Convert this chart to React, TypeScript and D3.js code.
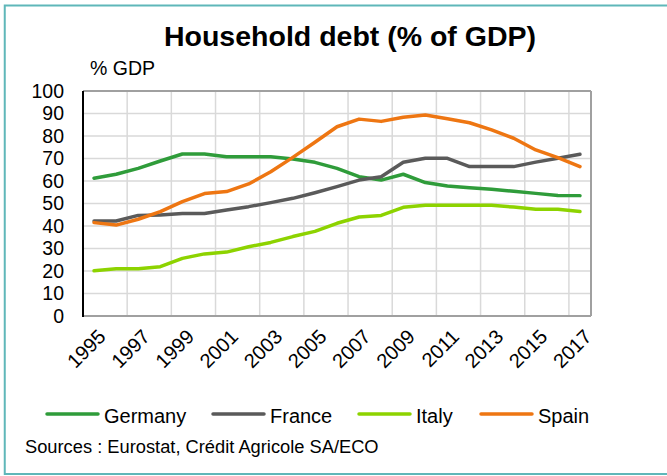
import React from "react";
import * as d3 from "d3";

const years = d3.range(1995, 2018).map(String);
const germany = [61.2, 63, 65.6, 68.9, 72, 72, 70.8, 70.8, 70.8, 69.8, 68.3, 65.6, 61.9, 60.4, 63, 59.3, 57.8, 57, 56.3, 55.4, 54.5, 53.6, 53.5];
const france = [42.2, 42.2, 44.7, 44.9, 45.6, 45.6, 47.1, 48.6, 50.4, 52.3, 54.8, 57.5, 60.4, 61.9, 68.3, 70.1, 70.1, 66.4, 66.4, 66.4, 68.4, 70.1, 71.9];
const italy = [20.1, 21, 21, 21.9, 25.6, 27.6, 28.4, 30.8, 32.7, 35.3, 37.6, 41.2, 44, 44.7, 48.3, 49.2, 49.2, 49.2, 49.2, 48.4, 47.4, 47.4, 46.4];
const spain = [41.5, 40.4, 43, 46.4, 50.8, 54.4, 55.3, 58.7, 64.1, 70.5, 77.2, 84.1, 87.5, 86.5, 88.3, 89.3, 87.7, 85.9, 82.7, 79, 73.8, 70.4, 66.4];
const yTicks = [0, 10, 20, 30, 40, 50, 60, 70, 80, 90, 100];

const seriesNames = ["Germany", "France", "Italy", "Spain"];
const seriesValues = [germany, france, italy, spain];
const colors = ["#2f9c3a", "#5a5a5a", "#8dd300", "#ee7612"];

const W = 667, H = 476;
const L = 83, R = 591, T = 91, B = 316;
const FONT = "'Liberation Sans', Arial, sans-serif";

export default function App() {
  const x = d3.scaleBand<string>().domain(years).range([L, R]).padding(0);
  const bw = x.bandwidth();
  const cx = (yr: string) => (x(yr) as number) + bw / 2;
  const y = d3.scaleLinear().domain([0, 100]).range([B, T]);
  const line = d3.line<number>().x((_, i) => cx(years[i])).y((d) => y(d));

  const legendX = [47, 213, 359, 481];

  return (
    <svg width={W} height={H} style={{ position: "absolute", left: 0, top: 0 }} fontFamily={FONT}>
      <rect x={0} y={0} width={W} height={H} fill="#fff" />
      <rect x={4.75} y={5.5} width={W + 10} height={468.5} fill="none" stroke="#5fb7b9" strokeWidth={2} />
      <text x={350} y={46} textAnchor="middle" fontSize={28.5} fontWeight="bold" fill="#000">Household debt (% of GDP)</text>
      <text x={90} y={75} fontSize={19.5} fill="#000">% GDP</text>
      {/* horizontal grid */}
      {yTicks.filter((t) => t > 0 && t < 100).map((t) => (
        <line key={"h" + t} x1={L} x2={R} y1={y(t)} y2={y(t)} stroke="#d9d9d9" strokeWidth={1.5} />
      ))}
      {/* vertical grid */}
      {years.map((yr, i) => (i > 0 && i % 2 === 0 ? (
        <line key={"v" + yr} x1={x(yr) as number} x2={x(yr) as number} y1={T} y2={B} stroke="#d9d9d9" strokeWidth={1.5} />
      ) : null))}
      {/* plot border */}
      <line x1={L} x2={R} y1={T} y2={T} stroke="#a0a0a0" strokeWidth={2} />
      <line x1={R} x2={R} y1={T} y2={B} stroke="#a0a0a0" strokeWidth={2} />
      <line x1={L} x2={R} y1={B} y2={B} stroke="#a0a0a0" strokeWidth={2} />
      <line x1={L} x2={L} y1={T} y2={B + 1} stroke="#000" strokeWidth={2} />
      {/* y ticks */}
      {yTicks.map((t) => (
        <text key={"yt" + t} x={64} y={y(t)} dy="0.35em" textAnchor="end" fontSize={19.5} fill="#000">{t}</text>
      ))}
      {/* x ticks */}
      {years.map((yr, i) => (i % 2 === 0 ? (
        <text key={"xt" + yr} transform={`translate(${cx(yr) + 3},${B + 12}) rotate(-45)`} textAnchor="end" dy="0.7em" fontSize={20} fill="#000">{yr}</text>
      ) : null))}
      {/* lines */}
      {seriesValues.map((vals, si) => (
        <path key={seriesNames[si]} d={line(vals) as string} fill="none" stroke={colors[si]} strokeWidth={3.5} strokeLinejoin="round" strokeLinecap="round" />
      ))}
      {/* legend */}
      {seriesNames.map((n, si) => (
        <g key={"lg" + n}>
          <line x1={legendX[si]} x2={legendX[si] + 51} y1={414} y2={414} stroke={colors[si]} strokeWidth={3.5} strokeLinecap="round" />
          <text x={legendX[si] + 57} y={423} fontSize={20} fill="#000">{n}</text>
        </g>
      ))}
      <text x={25} y={453} fontSize={18.3} fill="#000">Sources : Eurostat, Crédit Agricole SA/ECO</text>
    </svg>
  );
}
